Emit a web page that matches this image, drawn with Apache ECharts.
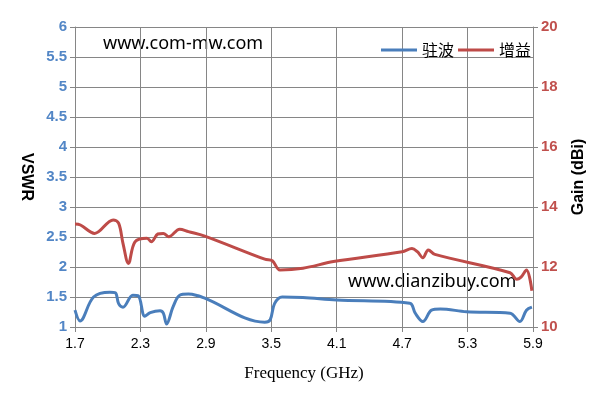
<!DOCTYPE html>
<html><head><meta charset="utf-8">
<script src="https://cdn.jsdelivr.net/npm/echarts@6/dist/echarts.min.js"></script>
<style>html,body{margin:0;padding:0;background:#fff}#c{width:597px;height:404px}</style>
</head><body><div id="c"></div>
<script>
const xTicks = ['1.7','2.3','2.9','3.5','4.1','4.7','5.3','5.9'];
const vswrFreq = [1.70,1.746,1.87,2.02,2.07,2.10,2.14,2.23,2.28,2.34,2.39,2.48,2.51,2.54,2.60,2.66,2.74,2.83,2.89,3.44,3.49,3.53,3.60,3.79,4.10,4.77,4.82,4.89,4.97,5.05,5.29,5.69,5.78,5.84,5.89];
const vswrVal  = [1.28,1.10,1.50,1.58,1.57,1.39,1.33,1.53,1.52,1.18,1.24,1.27,1.23,1.05,1.34,1.53,1.55,1.52,1.48,1.08,1.12,1.39,1.50,1.49,1.45,1.395,1.23,1.09,1.28,1.30,1.255,1.23,1.09,1.28,1.33];
const gainFreq = [1.70,1.75,1.88,2.05,2.10,2.14,2.19,2.25,2.36,2.40,2.46,2.51,2.56,2.66,2.74,2.89,3.44,3.51,3.58,3.79,4.07,4.70,4.79,4.84,4.89,4.94,5.00,5.69,5.75,5.79,5.84,5.89];
const gainVal  = [13.43,13.40,13.12,13.57,13.46,12.79,12.12,12.84,12.96,12.84,13.10,13.12,13.01,13.26,13.18,13.03,12.26,12.21,11.90,11.96,12.18,12.51,12.62,12.51,12.31,12.57,12.42,11.81,11.59,11.66,11.90,11.21];
const X0 = 1.7;
const gridColor = '#868686';
const chart = echarts.init(document.getElementById('c'));
chart.setOption({
  animation:false,
  grid:{left:75,right:64,top:27,bottom:77},
  legend:{left:376,top:37,itemWidth:36,itemHeight:3,itemGap:4,icon:'rect',
    textStyle:{fontFamily:'Noto Sans CJK SC',fontSize:16,color:'#000'},
    data:['驻波','增益']},
  graphic:[
    {type:'text',left:103,top:35,style:{text:'www.com-mw.com',font:'18px "Noto Sans"',fill:'#000'}},
    {type:'text',left:348,top:273,style:{text:'www.dianzibuy.com',font:'18px "Noto Sans"',fill:'#000'}}
  ],
  xAxis:{type:'value',min:0,max:4.2,interval:0.6,
    name:'Frequency (GHz)',nameLocation:'middle',nameGap:38,
    nameTextStyle:{fontFamily:'Liberation Serif',fontSize:17,color:'#000'},
    axisLine:{lineStyle:{color:gridColor}},
    axisTick:{show:true,length:5,lineStyle:{color:gridColor}},
    splitLine:{show:true,lineStyle:{color:gridColor,width:1}},
    axisLabel:{color:'#000',fontSize:14,fontFamily:'Liberation Sans',margin:10,
      formatter:v=>(v+X0).toFixed(1)}},
  yAxis:[
    {type:'value',min:1,max:6,interval:0.5,position:'left',
     name:'VSWR',nameLocation:'middle',nameGap:41,nameRotate:-90,
     nameTextStyle:{fontFamily:'Liberation Sans',fontWeight:'bold',fontSize:16,color:'#000'},
     axisLine:{show:true,lineStyle:{color:gridColor}},
     axisTick:{show:true,length:5,lineStyle:{color:gridColor}},
     splitLine:{show:true,lineStyle:{color:gridColor,width:1}},
     axisLabel:{color:'#5286C6',fontWeight:'bold',fontSize:15,fontFamily:'Liberation Sans',margin:8}},
    {type:'value',min:10,max:20,interval:2,position:'right',
     name:'Gain (dBi)',nameLocation:'middle',nameGap:38,nameRotate:90,
     nameTextStyle:{fontFamily:'Liberation Sans',fontWeight:'bold',fontSize:16,color:'#000'},
     axisLine:{show:true,lineStyle:{color:gridColor}},
     axisTick:{show:true,length:5,lineStyle:{color:gridColor}},
     splitLine:{show:false},
     axisLabel:{color:'#C0504D',fontWeight:'bold',fontSize:15,fontFamily:'Liberation Sans',margin:8}}
  ],
  series:[
    {name:'驻波',type:'line',yAxisIndex:0,symbol:'none',smooth:0.35,
     lineStyle:{color:'#4A7EBB',width:3},itemStyle:{color:'#4A7EBB'},
     data:vswrFreq.map((f,i)=>[f-X0,vswrVal[i]])},
    {name:'增益',type:'line',yAxisIndex:1,symbol:'none',smooth:0.35,
     lineStyle:{color:'#BE4B48',width:3},itemStyle:{color:'#BE4B48'},
     data:gainFreq.map((f,i)=>[f-X0,gainVal[i]])}
  ]
});
</script></body></html>
